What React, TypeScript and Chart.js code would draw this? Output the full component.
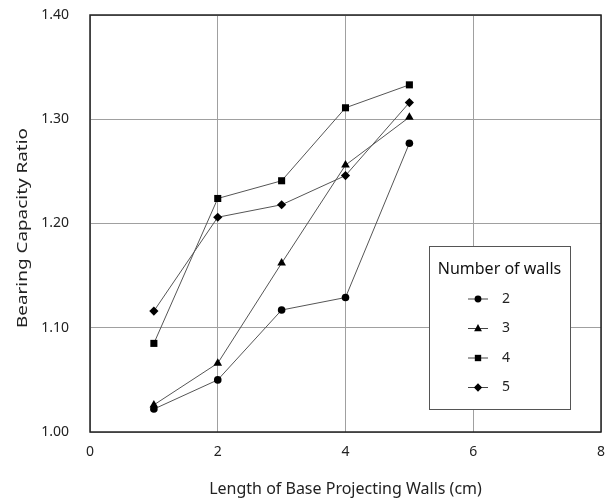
import React, { useEffect, useRef } from "react";
import { Chart, registerables } from "chart.js";

Chart.register(...registerables);

const xValues = [1, 2, 3, 4, 5];
const walls2 = [1.022, 1.05, 1.117, 1.129, 1.277];
const walls3 = [1.026, 1.066, 1.162, 1.256, 1.302];
const walls4 = [1.085, 1.224, 1.241, 1.311, 1.333];
const walls5 = [1.116, 1.206, 1.218, 1.246, 1.316];
const seriesLabels = ["2", "3", "4", "5"];
const pointStyles = ["circle", "triangle", "rect", "rectRot"];
const pointRadii = [3.8, 5, 5, 4.6];
const legendTitle = "Number of walls";
const xTitle = "Length of Base Projecting Walls (cm)";
const yTitle = "Bearing Capacity Ratio";

const FONT = "'Noto Sans', 'DejaVu Sans', sans-serif";

function drawMarker(ctx: CanvasRenderingContext2D, style: string, x: number, y: number, r: number) {
  ctx.beginPath();
  if (style === "circle") {
    ctx.arc(x, y, r, 0, Math.PI * 2);
  } else if (style === "triangle") {
    ctx.moveTo(x, y - r);
    ctx.lineTo(x + r * Math.sin(Math.PI / 3), y + r * 0.5 + 0.5);
    ctx.lineTo(x - r * Math.sin(Math.PI / 3), y + r * 0.5 + 0.5);
    ctx.closePath();
  } else if (style === "rect") {
    const s = r * Math.SQRT1_2;
    ctx.rect(x - s, y - s, 2 * s, 2 * s);
  } else {
    ctx.moveTo(x, y - r);
    ctx.lineTo(x + r, y);
    ctx.lineTo(x, y + r);
    ctx.lineTo(x - r, y);
    ctx.closePath();
  }
  ctx.fill();
}

const framePlugin = {
  id: "frameAndLegend",
  afterDatasetsDraw(chart: any) {
    const { ctx, chartArea } = chart;
    const { left, top, right, bottom } = chartArea;
    ctx.save();
    ctx.strokeStyle = "#222";
    ctx.lineWidth = 1.5;
    ctx.strokeRect(left, top, right - left, bottom - top);

    // stretched y-axis title (as in the source figure)
    ctx.save();
    ctx.font = `14.5px ${FONT}`;
    ctx.fillStyle = "#222";
    ctx.textAlign = "center";
    ctx.textBaseline = "middle";
    const w = ctx.measureText(yTitle).width;
    const k = 200 / w;
    ctx.translate(23, (top + bottom) / 2 + 4.5);
    ctx.rotate(-Math.PI / 2);
    ctx.scale(k, 1);
    ctx.fillText(yTitle, 0, 0);
    ctx.restore();

    // legend box
    const bx = left + 339;
    const by = top + 231;
    const bw = 141;
    const bh = 163;
    ctx.fillStyle = "#fff";
    ctx.fillRect(bx, by, bw, bh);
    ctx.strokeStyle = "#555";
    ctx.lineWidth = 1;
    ctx.strokeRect(bx + 0.5, by + 0.5, bw, bh);

    ctx.fillStyle = "#111";
    ctx.font = `16px ${FONT}`;
    ctx.textAlign = "center";
    ctx.textBaseline = "middle";
    ctx.fillText(legendTitle, bx + bw / 2, by + 23);

    const datasets = chart.data.datasets;
    datasets.forEach((ds: any, i: number) => {
      const cy = by + 53 + i * 29.5;
      const mx = bx + 49;
      ctx.strokeStyle = "#444";
      ctx.lineWidth = 1;
      ctx.beginPath();
      ctx.moveTo(mx - 10, cy);
      ctx.lineTo(mx + 10, cy);
      ctx.stroke();
      ctx.fillStyle = "#000";
      drawMarker(ctx, pointStyles[i], mx, cy, pointRadii[i] * 0.9);
      ctx.fillStyle = "#222";
      ctx.font = `14px ${FONT}`;
      ctx.textAlign = "left";
      ctx.fillText(ds.label, bx + 73, cy);
    });
    ctx.restore();
  },
};

export default function App() {
  const canvasRef = useRef<HTMLCanvasElement | null>(null);

  useEffect(() => {
    const canvas = canvasRef.current;
    if (!canvas) return;
    const seriesData = [walls2, walls3, walls4, walls5];
    const chart = new Chart(canvas, {
      type: "line",
      data: {
        datasets: seriesData.map((vals, i) => ({
          label: seriesLabels[i],
          data: vals.map((y, j) => ({ x: xValues[j], y })),
          borderColor: "#555",
          borderWidth: 1,
          backgroundColor: "#000",
          pointBackgroundColor: "#000",
          pointBorderColor: "#000",
          pointBorderWidth: 0,
          pointStyle: pointStyles[i] as any,
          pointRadius: pointRadii[i],
          tension: 0,
          fill: false,
        })),
      },
      options: {
        responsive: false,
        animation: false,
        layout: { padding: { left: 0, right: 11, top: 15, bottom: 0 } },
        plugins: {
          legend: { display: false },
          tooltip: { enabled: false },
        },
        scales: {
          x: {
            type: "linear",
            min: 0,
            max: 8,
            ticks: {
              stepSize: 2,
              color: "#222",
              padding: 12,
              font: { family: FONT, size: 14 },
            },
            grid: { color: "#a0a0a0", lineWidth: 1, drawTicks: false },
            border: { display: false },
            title: {
              display: true,
              text: xTitle,
              color: "#222",
              font: { family: FONT, size: 16 },
              padding: { top: 0, bottom: 1 },
            },
            afterFit: (scale: any) => {
              scale.height = 68;
              scale.paddingLeft = 0;
              scale.paddingRight = 0;
              scale.paddingTop = 0;
              scale.paddingBottom = 0;
            },
          },
          y: {
            type: "linear",
            min: 1.0,
            max: 1.4,
            ticks: {
              stepSize: 0.1,
              color: "#222",
              padding: 21,
              font: { family: FONT, size: 14 },
              callback: (v: any) => Number(v).toFixed(2),
            },
            grid: { color: "#a0a0a0", lineWidth: 1, drawTicks: false },
            border: { display: false },
            title: { display: false, text: yTitle },
            afterFit: (scale: any) => {
              scale.width = 90;
              scale.paddingLeft = 0;
              scale.paddingRight = 0;
              scale.paddingTop = 0;
              scale.paddingBottom = 0;
            },
          },
        },
      },
      plugins: [framePlugin],
    });
    return () => chart.destroy();
  }, []);

  return (
    <div style={{ position: "fixed", left: 0, top: 0, width: 612, height: 500, background: "#fff" }}>
      <canvas ref={canvasRef} width={612} height={500} />
    </div>
  );
}
